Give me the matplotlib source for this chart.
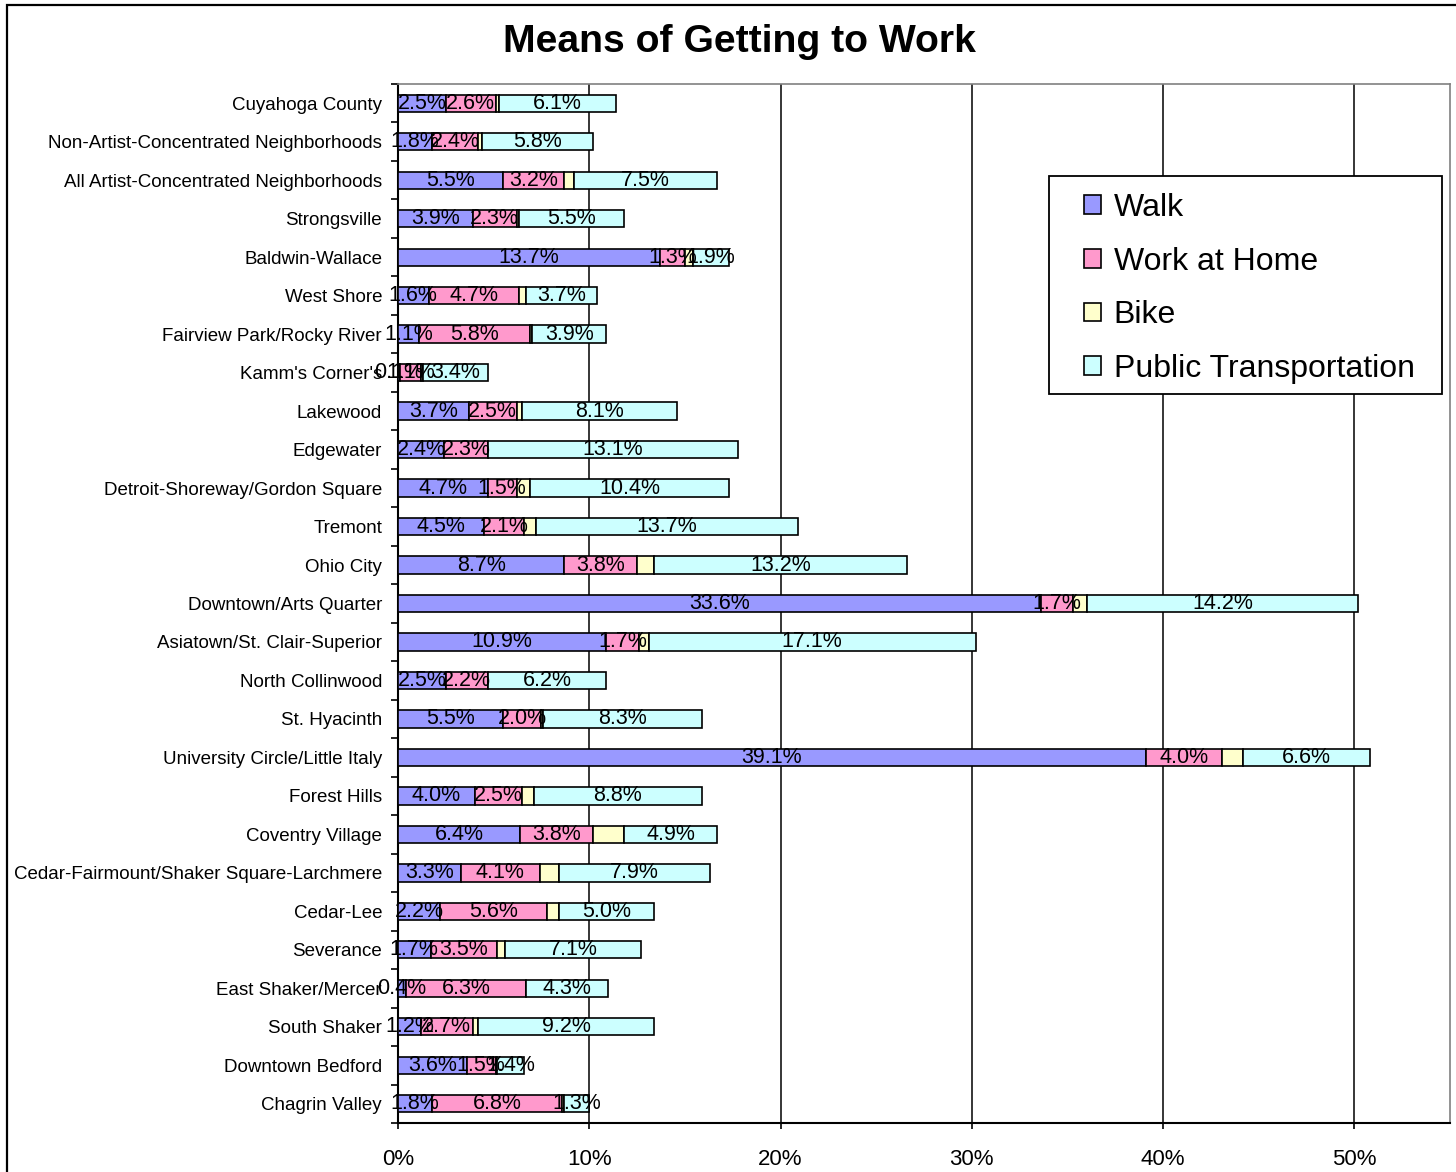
import numpy as np
import matplotlib
matplotlib.use('Agg')
import matplotlib.pyplot as plt
from matplotlib.patches import Rectangle

plt.rcParams['font.family'] = ['Liberation Sans', 'DejaVu Sans']

# データ（上から順）
places = ['Cuyahoga County', 'Non-Artist-Concentrated Neighborhoods',
          'All Artist-Concentrated Neighborhoods', 'Strongsville', 'Baldwin-Wallace',
          'West Shore', 'Fairview Park/Rocky River', "Kamm's Corner's", 'Lakewood',
          'Edgewater', 'Detroit-Shoreway/Gordon Square', 'Tremont', 'Ohio City',
          'Downtown/Arts Quarter', 'Asiatown/St. Clair-Superior', 'North Collinwood',
          'St. Hyacinth', 'University Circle/Little Italy', 'Forest Hills',
          'Coventry Village', 'Cedar-Fairmount/Shaker Square-Larchmere', 'Cedar-Lee',
          'Severance', 'East Shaker/Mercer', 'South Shaker', 'Downtown Bedford',
          'Chagrin Valley']
walk = [2.5, 1.8, 5.5, 3.9, 13.7, 1.6, 1.1, 0.1, 3.7, 2.4, 4.7, 4.5, 8.7, 33.6, 10.9,
        2.5, 5.5, 39.1, 4.0, 6.4, 3.3, 2.2, 1.7, 0.4, 1.2, 3.6, 1.8]
home = [2.6, 2.4, 3.2, 2.3, 1.3, 4.7, 5.8, 1.1, 2.5, 2.3, 1.5, 2.1, 3.8, 1.7, 1.7,
        2.2, 2.0, 4.0, 2.5, 3.8, 4.1, 5.6, 3.5, 6.3, 2.7, 1.5, 6.8]
bike = [0.2, 0.2, 0.5, 0.1, 0.4, 0.4, 0.1, 0.1, 0.3, 0.0, 0.7, 0.6, 0.9, 0.7, 0.5,
        0.0, 0.1, 1.1, 0.6, 1.6, 1.0, 0.6, 0.4, 0.0, 0.3, 0.1, 0.1]
transit = [6.1, 5.8, 7.5, 5.5, 1.9, 3.7, 3.9, 3.4, 8.1, 13.1, 10.4, 13.7, 13.2, 14.2,
           17.1, 6.2, 8.3, 6.6, 8.8, 4.9, 7.9, 5.0, 7.1, 4.3, 9.2, 1.4, 1.3]
series = ['Walk', 'Work at Home', 'Bike', 'Public Transportation']
colors = ['#9999FF', '#FF99CC', '#FFFFCC', '#CCFFFF']
show_label = [True, True, False, True]

W, H = 1456, 1172
fig = plt.figure(figsize=(W/100, H/100), dpi=100)
ax = fig.add_axes([398/W, 49/H, 1052/W, 1039/H])

# 外枠
fig.patches.append(Rectangle((7/W, -0.01), 1.0, 1.0 - 5/H + 0.01, transform=fig.transFigure,
                             fill=False, edgecolor='black', linewidth=1.6))

y = np.arange(len(places))
left = np.zeros(len(places))
bars_all = []
for vals, name, col in zip([walk, home, bike, transit], series, colors):
    v = np.array(vals)
    b = ax.barh(y, v, left=left, height=0.45, color=col, edgecolor='black',
                linewidth=1.2, label=name, zorder=3)
    bars_all.append(b)
    left = left + v

for b, on in zip(bars_all, show_label):
    if on:
        ax.bar_label(b, labels=['%.1f%%' % r.get_width() for r in b], label_type='center',
                     fontsize=15.5, color='black', zorder=5, clip_on=False)

ax.set_ylim(len(places) - 0.5, -0.5)
ax.set_xlim(0, 55)
ax.set_xticks([0, 10, 20, 30, 40, 50])
ax.set_xticklabels(['0%', '10%', '20%', '30%', '40%', '50%'], fontsize=16)
ax.set_yticks(y)
ax.set_yticklabels(places, fontsize=13.5)
ax.set_yticks(np.arange(len(places) + 1) - 0.5, minor=True)
ax.tick_params(axis='y', which='major', length=0, pad=11.5)
ax.tick_params(axis='y', which='minor', length=5, width=1.2, direction='out')
ax.tick_params(axis='x', length=4.5, width=1.2, pad=14)
ax.xaxis.grid(True, color='black', linewidth=1.1, zorder=0)
ax.set_axisbelow(True)
for s in ['left', 'bottom']:
    ax.spines[s].set_linewidth(1.5)
    ax.spines[s].set_color('black')
for s in ['top', 'right']:
    ax.spines[s].set_linewidth(1.2)
    ax.spines[s].set_color('#808080')

# 凡例の枠（ピクセル位置から）
def ax_xy(px, py):
    return (px - 398) / 1052, (1123 - py) / 1039

x0, y0 = ax_xy(1049, 394)
x1, y1 = ax_xy(1442, 176)
ax.add_patch(Rectangle((x0, y0), x1 - x0, y1 - y0, transform=ax.transAxes,
                       facecolor='white', edgecolor='black', linewidth=1.3, zorder=6,
                       clip_on=False))
lx, ly = ax_xy(1084, 193)
leg = ax.legend(loc='upper left', bbox_to_anchor=(lx, ly), fontsize=23, frameon=False,
                borderpad=0, borderaxespad=0, handlelength=0.53, handleheight=0.53,
                handletextpad=0.4, labelspacing=0.74)
leg.set_zorder(7)

fig.text(739/W, 1 - 42/H, 'Means of Getting to Work', ha='center', va='center',
         fontsize=28.2, fontweight='bold')

plt.savefig('out.png', dpi=100)
